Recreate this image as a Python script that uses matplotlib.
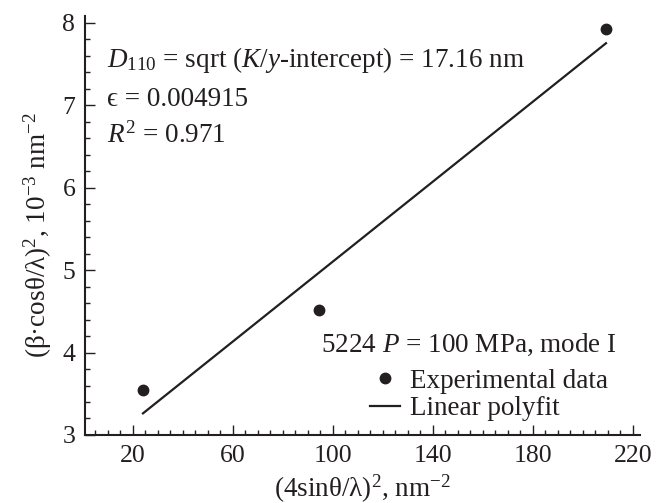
import numpy as np
import matplotlib
matplotlib.use("Agg")
import matplotlib.pyplot as plt
from matplotlib.ticker import MultipleLocator
from matplotlib.lines import Line2D

plt.rcParams['font.family'] = ['Liberation Serif', 'DejaVu Serif']
plt.rcParams['mathtext.fontset'] = 'custom'
plt.rcParams['mathtext.rm'] = 'Liberation Serif'
plt.rcParams['mathtext.it'] = 'Liberation Serif:italic'
plt.rcParams['mathtext.cal'] = 'Liberation Serif'

INK = '#231f20'
FS = 19.5

# Williamson-Hall data, sample 5224 (P = 100 MPa, mode I)
x_data = [24.0, 94.4, 209.2]        # (4 sin(theta)/lambda)^2, nm^-2
y_data = [3.54, 4.52, 7.92]         # (beta cos(theta)/lambda)^2, 1e-3 nm^-2

fit_text = [r'$D_{110}$ = sqrt ($K$/$y$-intercept) = 17.16 nm',
            'ϵ = 0.004915',
            r'$R^2$ = 0.971']
sample_label = r'5224 $P$ = 100 MPa, mode I'

slope, icpt = np.polyfit(x_data, y_data, 1)
x_fit = np.array([min(x_data), max(x_data)])
y_fit = slope * x_fit + icpt

fig = plt.figure(figsize=(6.67, 5.03), dpi=100)
ax = fig.add_axes([0.1274, 0.1352, 0.8321, 0.8330])

ax.plot(x_fit, y_fit, color=INK, lw=1.6)
ax.plot(x_data, y_data, 'o', color=INK, ms=7.5)

ax.set_xlim(0.8, 222.8)
ax.set_ylim(3, 8.08)
ax.xaxis.set_minor_locator(MultipleLocator(5))
ax.set_xticks([20, 60, 100, 140, 180, 220])
ax.yaxis.set_major_locator(MultipleLocator(1))
ax.yaxis.set_minor_locator(MultipleLocator(0.2))

for s in ('top', 'right'):
    ax.spines[s].set_visible(False)
for s in ('left', 'bottom'):
    ax.spines[s].set_linewidth(1.5)
    ax.spines[s].set_color(INK)

ax.tick_params(which='both', direction='in', colors=INK, labelsize=18.5, width=1)
ax.tick_params(which='major', length=7, pad=7)
ax.tick_params(which='minor', length=3.5)

ax.set_xlabel(r'(4sinθ/λ)$^2$, nm$^{-2}$', fontsize=FS, color=INK, labelpad=4)
ax.set_ylabel(r'(β·cosθ/λ)$^2$, 10$^{-3}$ nm$^{-2}$', fontsize=FS, color=INK,
              labelpad=6)
ax.yaxis.label.set_y(0.477)

for t, yb in zip(fit_text, [0.878, 0.785, 0.697]):
    ax.text(0.04, yb, t, transform=ax.transAxes, fontsize=FS,
            color=INK, va='baseline', ha='left')

ax.text(0.9586, 0.198, sample_label, transform=ax.transAxes, fontsize=FS,
        color=INK, ha='right', va='baseline')

handles = [Line2D([], [], marker='o', ls='none', color=INK, ms=7.5),
           Line2D([], [], color=INK, lw=1.6)]
ax.legend(handles, ['Experimental data', 'Linear polyfit'], loc='lower right',
          bbox_to_anchor=(0.9676, 0.0), frameon=False, fontsize=FS,
          handlelength=1.1, handletextpad=0.4, labelspacing=0.1,
          borderaxespad=0.1, labelcolor=INK)

fig.savefig('out.png', dpi=100)
